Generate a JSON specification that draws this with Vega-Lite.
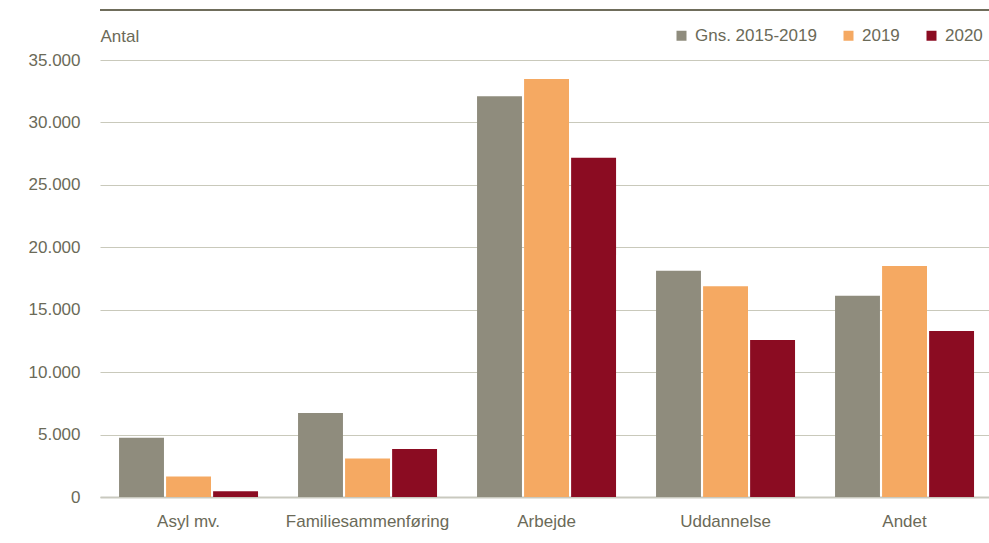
{
  "$schema": "https://vega.github.io/schema/vega-lite/v6.json",
  "autosize": {"type": "none"},
  "width": 889,
  "height": 437,
  "padding": {"left": 100, "top": 60, "right": 0, "bottom": 46},
  "background": "white",
  "config": {
    "locale": {"number": {"decimal": ",", "thousands": ".", "grouping": [3], "currency": ["", " kr."]}},
    "view": {"stroke": null},
    "font": "Liberation Sans"
  },
  "data": {
    "values": [
      {"kategori": "Asyl mv.", "serie": "Gns. 2015-2019", "antal": 4750},
      {"kategori": "Asyl mv.", "serie": "2019", "antal": 1650},
      {"kategori": "Asyl mv.", "serie": "2020", "antal": 470},
      {"kategori": "Familiesammenføring", "serie": "Gns. 2015-2019", "antal": 6730},
      {"kategori": "Familiesammenføring", "serie": "2019", "antal": 3080},
      {"kategori": "Familiesammenføring", "serie": "2020", "antal": 3850},
      {"kategori": "Arbejde", "serie": "Gns. 2015-2019", "antal": 32100},
      {"kategori": "Arbejde", "serie": "2019", "antal": 33480},
      {"kategori": "Arbejde", "serie": "2020", "antal": 27170},
      {"kategori": "Uddannelse", "serie": "Gns. 2015-2019", "antal": 18120},
      {"kategori": "Uddannelse", "serie": "2019", "antal": 16880},
      {"kategori": "Uddannelse", "serie": "2020", "antal": 12570},
      {"kategori": "Andet", "serie": "Gns. 2015-2019", "antal": 16120},
      {"kategori": "Andet", "serie": "2019", "antal": 18500},
      {"kategori": "Andet", "serie": "2020", "antal": 13300}
    ]
  },
  "layer": [
    {
      "mark": {"type": "bar"},
      "encoding": {
        "x": {
          "field": "kategori", "type": "nominal", "sort": null,
          "scale": {"paddingInner": 0.2235, "paddingOuter": 0.095, "align": 0.56},
          "axis": {
            "title": null, "labelAngle": 0, "ticks": false,
            "domainColor": "#c9c9bf", "domainWidth": 2,
            "labelFontSize": 17, "labelColor": "#6b6a58", "labelPadding": 16, "labelLimit": 300
          }
        },
        "xOffset": {
          "field": "serie", "type": "nominal", "sort": ["Gns. 2015-2019", "2019", "2020"],
          "scale": {"paddingInner": 0.045, "paddingOuter": 0}
        },
        "y": {
          "field": "antal", "type": "quantitative",
          "scale": {"domain": [0, 35000], "nice": false},
          "axis": {
            "title": "Antal", "titleAngle": 0, "titleAlign": "left", "titleBaseline": "alphabetic",
            "titleX": 0, "titleY": -19, "titleFontSize": 17, "titleFontWeight": "normal", "titleColor": "#6b6a58",
            "values": [0, 5000, 10000, 15000, 20000, 25000, 30000, 35000],
            "format": ",d", "domain": false, "ticks": false,
            "labelFontSize": 17, "labelColor": "#6b6a58", "labelPadding": 20,
            "gridColor": "#c9c9bb", "gridWidth": 1.2
          }
        },
        "color": {
          "field": "serie", "type": "nominal", "sort": ["Gns. 2015-2019", "2019", "2020"],
          "scale": {"domain": ["Gns. 2015-2019", "2019", "2020"], "range": ["#8f8c7d", "#f5a962", "#8b0c22"]},
          "legend": {
            "title": null, "orient": "none", "direction": "horizontal",
            "legendX": 573, "legendY": -33,
            "symbolType": "square", "symbolSize": 100, "symbolStrokeWidth": 0,
            "labelFontSize": 17, "labelColor": "#6b6a58", "labelOffset": 5,
            "columnPadding": 23
          }
        }
      }
    },
    {
      "mark": {"type": "rule", "color": "#6f6d5b", "strokeWidth": 2, "clip": false},
      "encoding": {"y": {"datum": 39000}}
    }
  ]
}
